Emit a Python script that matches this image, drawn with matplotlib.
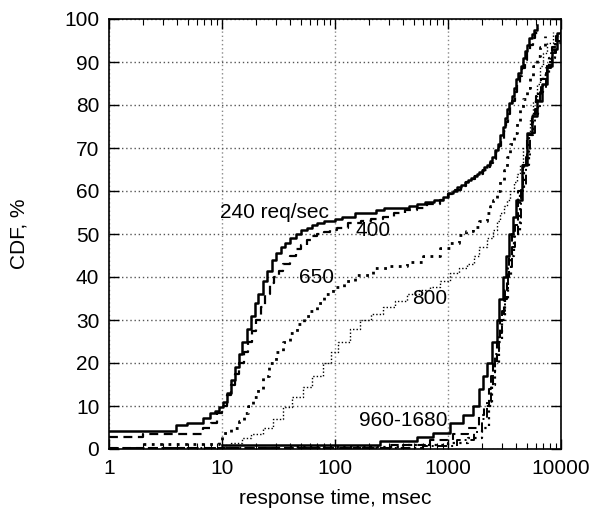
import matplotlib
matplotlib.use("Agg")
import matplotlib.pyplot as plt
from matplotlib.ticker import LogLocator, NullFormatter, FixedLocator

plt.rcParams['font.family'] = ['Liberation Sans', 'DejaVu Sans']

# ---- data (response time in ms, CDF in %) ----
x240 = [1, 3.9, 4.9, 6.8, 7.8, 8.7, 9.4, 10.2, 11, 12, 13, 14, 15, 16.5, 18, 19.5, 21, 23, 25, 27.5,
        30, 33, 36, 40, 45, 50, 56, 63, 70, 80, 90, 100, 115, 130, 150, 175, 200, 230, 270, 320,
        380, 450, 530, 630, 750, 900, 1000, 1100, 1200, 1300, 1400, 1500, 1600, 1700, 1800,
        1900, 2000, 2100, 2200, 2350, 2450, 2600, 2750, 2900, 3050, 3200, 3350, 3500, 3650,
        3800, 4000, 4200, 4400, 4600, 4800, 5000, 5250, 5500, 5800, 6100]
y240 = [4.3, 5.6, 6.0, 7.2, 8.3, 8.9, 9.7, 11, 13, 16, 19, 22, 25, 28, 31, 34, 36, 39, 41.5, 44,
        45.5, 47, 48, 49, 50, 51, 51.5, 52, 52.5, 53, 53, 53.5, 54, 54, 55, 55, 55, 55.5, 56, 56,
        56, 56.5, 57, 57.5, 58, 58.5, 59.5, 60, 61, 61.5, 62, 62.5, 63, 63.5, 64, 64.5, 65,
        65.5, 66, 67, 68, 69.5, 71, 73, 75, 77, 79, 80.5, 82, 84, 86, 87.5, 89, 91, 92.5, 94,
        95.5, 96.5, 97.5, 98.5]

x400 = [1, 2, 6.8, 8, 9, 10, 11, 12, 13, 14, 15.5, 17, 18.5, 20, 22, 24, 26.5, 29, 32, 35, 40, 45,
        50, 56, 63, 70, 80, 90, 104, 130, 170, 210, 265, 330, 420, 530, 650, 850, 1000, 1150,
        1300, 1450, 1600, 1750, 1900, 2050, 2200, 2350, 2500, 2650, 2800, 2950, 3100, 3250,
        3400, 3550, 3700, 3900, 4100, 4300, 4550, 4800, 5050, 5300, 5600, 5900, 6300]
y400 = [2.8, 3.5, 4.9, 6, 8.4, 10, 12.5, 15, 17.5, 20, 22.5, 25, 27.5, 30, 33, 36, 38.5, 40,
        41.5, 43, 45, 46.5, 47.5, 48.5, 49.5, 50, 50.5, 51, 51.5, 52.5, 53, 53.5, 54, 55, 55.5,
        56, 57, 58, 59.3, 60.3, 61.2, 62, 62.7, 63.4, 64, 64.8, 65.6, 66.5, 67.5, 69, 70.5, 72,
        74, 76, 78, 79.5, 81, 83, 85, 86.8, 88.5, 90.5, 92.5, 94, 95.5, 96.7, 98]

x650 = [2, 9.5, 10, 12, 14, 15.5, 17, 19, 21, 23, 26, 30, 35, 40, 46, 53, 60, 70, 80, 96, 120,
        150, 215, 300, 430, 600, 850, 1050, 1250, 1450, 1660, 1900, 2200, 2350, 2500, 2700,
        2900, 3100, 3300, 3550, 3800, 4050, 4300, 4650, 5000, 5350, 5700, 6100, 6500, 7200]
y650 = [1.1, 2, 3.7, 5, 6.5, 8.4, 10, 12, 14, 17, 20, 22.5, 25, 27, 29, 31, 32, 34, 36, 37.7,
        39, 40.5, 42, 42.5, 43.5, 45, 46.7, 48, 49.8, 50.7, 51.6, 53, 55, 56.5, 58, 60, 62.5,
        65, 68, 71, 73.5, 76, 79, 81.5, 84, 86.5, 89, 91.5, 93.5, 96]

x800 = [10, 12, 15, 18, 23, 28, 35, 42, 52, 62, 78, 92, 107, 135, 165, 210, 265, 340, 430, 550,
        700, 850, 1050, 1250, 1470, 1700, 1900, 2200, 2500, 2700, 2900, 3100, 3300, 3550,
        3800, 4050, 4300, 4650, 5000, 5350, 5700, 6100, 6500, 7000, 7500, 8500]
y800 = [1, 1.5, 2.6, 3.5, 5, 7, 9.8, 12, 14.5, 17, 20, 22.5, 25, 28, 30, 31.5, 33, 34.5, 36, 37,
        37.7, 39, 41, 42, 43, 45, 47, 49, 51, 53, 55, 56.5, 58, 60, 62, 64, 66, 70, 73.5, 77,
        81, 85, 89, 92, 94.4, 97]

xhiA = [10, 250, 530, 740, 1040, 1370, 1680, 1900, 2050, 2200, 2450, 2700, 2850, 3050, 3250,
        3500, 3750, 4000, 4500, 5000, 5500, 6100, 6800, 7500, 8300, 9200, 10000]
yhiA = [1, 1.9, 2.8, 3.7, 6, 8, 10, 14, 17, 20, 25, 30, 35, 40, 45, 50, 54, 58, 66, 73.5, 77.5,
        81, 85, 89, 93, 96.7, 97.5]

xhiB = [1, 300, 700, 1100, 1500, 1900, 2100, 2300, 2500, 2700, 2900, 3100, 3300, 3500, 3700,
        4200, 4600, 5000, 5500, 6000, 6700, 7500, 8300, 9000, 10000]
yhiB = [0.3, 1, 2, 3.5, 5, 8, 10, 14, 20, 25, 30, 35, 40, 45, 50, 60, 66, 73, 78, 82, 86, 90,
        93.5, 96, 97]

xhiC = [40, 400, 1000, 1500, 2000, 2300, 2450, 2600, 2800, 3000, 3200, 3400, 3600, 3800, 4300,
        4700, 5200, 5700, 6300, 7000, 7800, 8800, 10000]
yhiC = [0.5, 1, 1.5, 2.5, 5, 10, 15, 20, 25, 30, 35, 40, 45, 50, 60, 66, 73, 78, 83, 87, 91,
        94.5, 97]

xhiD = [1, 600, 1200, 1700, 2000, 2200, 2400, 2600, 2800, 3000, 3200, 3400, 3650, 3900, 4400,
        4900, 5300, 5900, 6500, 7300, 8100, 9000, 10000]
yhiD = [0.2, 0.8, 2, 4, 7, 11, 17, 22, 27, 32, 37, 42, 47, 52, 61, 68, 73.5, 79, 84, 88.5, 92,
        95, 97.2]

labels = ["240 req/sec", "400", "650", "800", "960-1680"]
label_x = [29, 215, 69, 690, 400]
label_y = [54.9, 50.8, 39.8, 35.1, 6.7]

xticks = [1, 10, 100, 1000, 10000]
xticklabels = ["1", "10", "100", "1000", "10000"]
yticks = [0, 10, 20, 30, 40, 50, 60, 70, 80, 90, 100]

# ---- figure ----
fig = plt.figure(figsize=(5.91, 5.17), dpi=100)
ax = fig.add_axes([109 / 591, 68 / 517, 452 / 591, 430 / 517])

k = dict(color='black', drawstyle='steps-post')
ax.plot(x800, y800, lw=1.0, ls=(0, (1, 1.5)), **k)
ax.plot(x650, y650, lw=2.0, ls=(0, (1, 2)), **k)
ax.plot(xhiB, yhiB, lw=1.5, ls=(0, (4, 2.5)), **k)
ax.plot(xhiC, yhiC, lw=1.6, ls=(0, (1, 2)), **k)
ax.plot(xhiD, yhiD, lw=1.4, ls=(0, (5, 2, 1, 2)), **k)
ax.plot(xhiA, yhiA, lw=1.8, ls='-', **k)
ax.plot(x400, y400, lw=1.6, ls=(0, (4, 2.5)), **k)
ax.plot(x240, y240, lw=1.8, ls='-', **k)

fs = 15
for t, tx, ty in zip(labels, label_x, label_y):
    ax.text(tx, ty, t, ha='center', va='center', fontsize=fs, color='black')

ax.set_xscale('log')
ax.set_xlim(1, 10000)
ax.set_ylim(0, 100)
ax.xaxis.set_major_locator(FixedLocator(xticks))
ax.set_xticks(xticks)
ax.set_xticklabels(xticklabels)
ax.xaxis.set_minor_locator(LogLocator(base=10, subs=range(2, 10)))
ax.xaxis.set_minor_formatter(NullFormatter())
ax.set_yticks(yticks)
ax.set_yticklabels([str(v) for v in yticks])

ax.tick_params(which='major', direction='in', length=7, width=1, top=True, right=True,
               labelsize=fs, pad=7, colors='black')
ax.tick_params(which='minor', direction='in', length=4, width=0.8, top=True, right=True)

ax.xaxis.grid(True, which='major', color='#888888', ls=(0, (1, 2)), lw=1)
ax.yaxis.grid(True, which='major', color='#555555', ls=(0, (1, 2)), lw=1)
ax.set_axisbelow(True)
for s in ax.spines.values():
    s.set_linewidth(1.2)
    s.set_color('black')

ax.set_xlabel("response time, msec", fontsize=fs, labelpad=8)
ax.set_ylabel("CDF, %", fontsize=fs, labelpad=26)

fig.savefig("out.png", dpi=100)
